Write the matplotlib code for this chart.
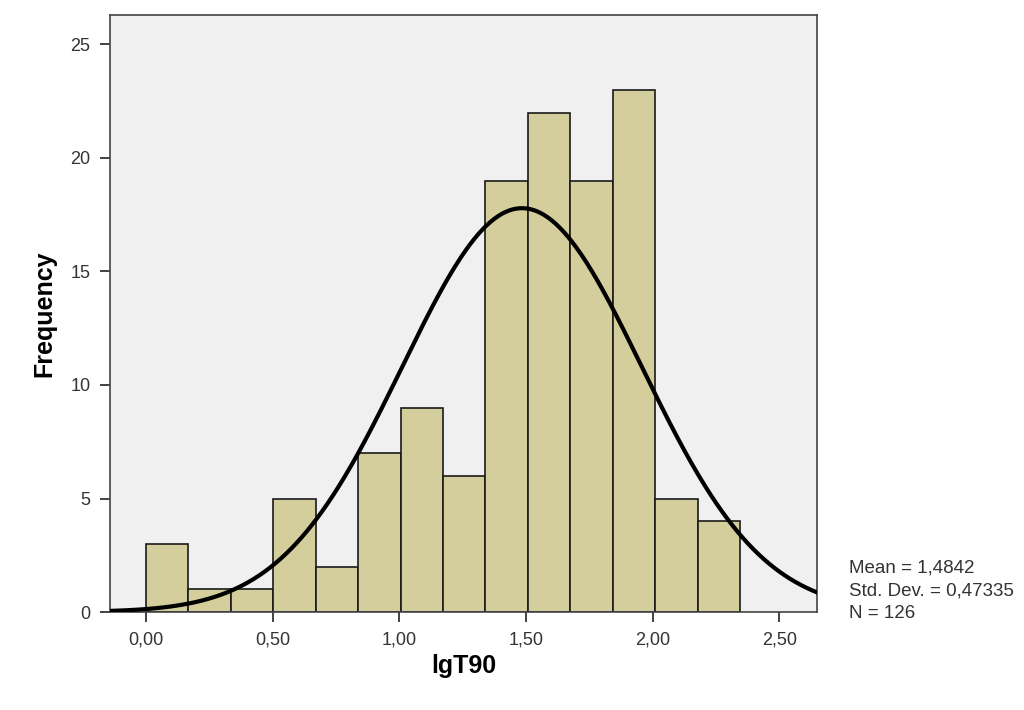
import matplotlib
matplotlib.use("Agg")
import matplotlib.pyplot as plt
import numpy as np

plt.rcParams['font.family'] = ['Liberation Sans', 'DejaVu Sans']

# histogram of lgT90
bin_width = 0.1675
counts = [3, 1, 1, 5, 2, 7, 9, 6, 19, 22, 19, 23, 5, 4]
bin_edges = [i * bin_width for i in range(len(counts) + 1)]
mean = 1.4842
std = 0.47335
n = 126

xticks = [0.0, 0.5, 1.0, 1.5, 2.0, 2.5]
xtick_labels = ["0,00", "0,50", "1,00", "1,50", "2,00", "2,50"]
yticks = [0, 5, 10, 15, 20, 25]

fig = plt.figure(figsize=(10.24, 7.10), dpi=100)
ax = fig.add_axes([0.1074, 0.138, 0.6906, 0.841])
ax.set_facecolor('#f0f0f0')

widths = np.diff(bin_edges)
ax.bar(bin_edges[:-1], counts, width=widths, align='edge',
       color='#d3ce9b', edgecolor='#1a1a1a', linewidth=1.2, zorder=2)

xlim = (-0.142, 2.649)
xs = np.linspace(xlim[0], xlim[1], 400)
ys = n * bin_width / (std * np.sqrt(2 * np.pi)) * np.exp(-0.5 * ((xs - mean) / std) ** 2)
ax.plot(xs, ys, color='black', linewidth=3, zorder=3)

ax.set_xlim(*xlim)
ax.set_ylim(0, 26.3)
ax.set_xticks(xticks)
ax.set_xticklabels(xtick_labels)
ax.set_yticks(yticks)
ax.tick_params(direction='out', length=7, width=1.2, labelsize=13, color='#222222',
               labelcolor='#333333', pad=7)
for s in ax.spines.values():
    s.set_color('#444444')
    s.set_linewidth(1.2)

ax.set_xlabel('lgT90', fontsize=18, fontweight='bold', labelpad=4)
ax.set_ylabel('Frequency', fontsize=18, fontweight='bold', labelpad=10)

stats = "Mean = 1,4842\nStd. Dev. = 0,47335\nN = 126"
fig.text(849 / 1024, 1 - 591 / 710, stats, fontsize=13.5, va='center', ha='left',
         linespacing=1.45, color='#333333')

fig.savefig('out.png', dpi=100)
